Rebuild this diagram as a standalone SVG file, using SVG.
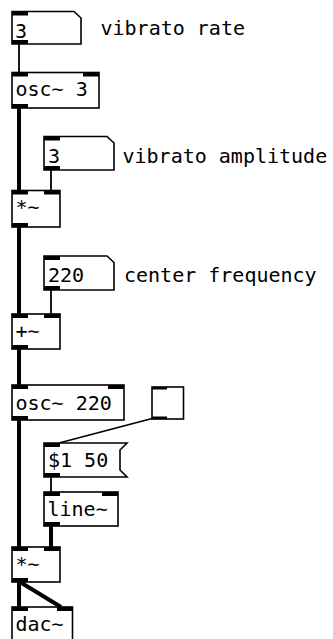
<svg xmlns="http://www.w3.org/2000/svg" width="333" height="639" viewBox="0 0 333 639">
<style>
.box{fill:#fff;stroke:#000;stroke-width:1.6}
.io{fill:#000}
.t{font-family:"DejaVu Sans Mono",monospace;font-size:20px;fill:#000}
.sig{stroke:#000;stroke-width:4;fill:none}
.ctl{stroke:#000;stroke-width:1.8;fill:none}
</style>
<rect width="333" height="639" fill="#fff"/>
<g id="connectors">
<line class="ctl" x1="19" y1="44" x2="19" y2="73"/>
<line class="sig" x1="19" y1="108" x2="19" y2="191"/>
<line class="ctl" x1="51" y1="170" x2="51" y2="191"/>
<line class="sig" x1="19" y1="227" x2="19" y2="314"/>
<line class="ctl" x1="51" y1="290" x2="51" y2="314"/>
<line class="sig" x1="19" y1="349" x2="19" y2="385"/>
<line class="sig" x1="19" y1="420" x2="19" y2="547"/>
<line class="ctl" x1="154" y1="418" x2="59" y2="443"/>
<line class="ctl" x1="51" y1="477" x2="51" y2="492"/>
<line class="sig" x1="51" y1="526" x2="51" y2="547"/>
<line class="sig" x1="19" y1="582" x2="19" y2="607"/>
<line class="sig" x1="20" y1="582" x2="61" y2="607"/>
</g>
<g id="nb1">
<path class="box" d="M12,11.5 H74 L81,18 V44 H12 Z"/>
<rect class="io" x="12" y="11.5" width="16" height="4"/>
<rect class="io" x="12" y="40" width="16" height="4"/>
<text class="t" x="15" y="38">3</text>
</g>
<g id="c1"><text class="t" x="100.5" y="35">vibrato rate</text></g>
<g id="osc1">
<rect class="box" x="12" y="72.5" width="87" height="35.5"/>
<rect class="io" x="12" y="72.5" width="16" height="4"/>
<rect class="io" x="83" y="72.5" width="16" height="4"/>
<rect class="io" x="12" y="104" width="16" height="4"/>
<text class="t" x="15.5" y="96">osc~ 3</text>
</g>
<g id="nb2">
<path class="box" d="M44,136.5 H107 L114,143 V170 H44 Z"/>
<rect class="io" x="44" y="136.5" width="16" height="4"/>
<rect class="io" x="44" y="166" width="16" height="4"/>
<text class="t" x="48" y="163">3</text>
</g>
<g id="c2"><text class="t" x="122.5" y="163">vibrato amplitude</text></g>
<g id="mul1">
<rect class="box" x="12" y="190.5" width="48" height="36.5"/>
<rect class="io" x="12" y="190.5" width="16" height="4"/>
<rect class="io" x="44" y="190.5" width="16" height="4"/>
<rect class="io" x="12" y="223" width="16" height="4"/>
<text class="t" x="15.5" y="214">*~</text>
</g>
<g id="nb3">
<path class="box" d="M44,256 H107 L114,262.5 V290 H44 Z"/>
<rect class="io" x="44" y="256" width="16" height="4"/>
<rect class="io" x="44" y="286" width="16" height="4"/>
<text class="t" x="48" y="282">220</text>
</g>
<g id="c3"><text class="t" x="124" y="282">center frequency</text></g>
<g id="add">
<rect class="box" x="12" y="314" width="48" height="35"/>
<rect class="io" x="12" y="314" width="16" height="4"/>
<rect class="io" x="44" y="314" width="16" height="4"/>
<rect class="io" x="12" y="345" width="16" height="4"/>
<text class="t" x="15.5" y="338">+~</text>
</g>
<g id="osc2">
<rect class="box" x="12" y="385" width="112" height="35"/>
<rect class="io" x="12" y="385" width="16" height="4"/>
<rect class="io" x="108" y="385" width="16" height="4"/>
<rect class="io" x="12" y="416" width="16" height="4"/>
<text class="t" x="15.5" y="410">osc~ 220</text>
</g>
<g id="bang">
<rect class="box" x="152" y="387" width="31.5" height="32" stroke-width="1.4"/>
<rect class="io" x="152" y="387" width="15" height="2.5"/>
<rect class="io" x="152" y="416.5" width="15" height="2.5"/>
</g>
<g id="msg">
<path class="box" d="M44,443 H127 L120,450 V470 L127,477 H44 Z"/>
<rect class="io" x="44" y="443" width="16" height="4"/>
<rect class="io" x="44" y="473" width="16" height="4"/>
<text class="t" x="48" y="467">$1 50</text>
</g>
<g id="line">
<rect class="box" x="44" y="492" width="74" height="34"/>
<rect class="io" x="44" y="492" width="16" height="4"/>
<rect class="io" x="102" y="492" width="16" height="4"/>
<rect class="io" x="44" y="522" width="16" height="4"/>
<text class="t" x="47.5" y="516">line~</text>
</g>
<g id="mul2">
<rect class="box" x="12" y="547" width="48" height="35"/>
<rect class="io" x="12" y="547" width="16" height="4"/>
<rect class="io" x="44" y="547" width="16" height="4"/>
<rect class="io" x="12" y="578" width="16" height="4"/>
<text class="t" x="15.5" y="571">*~</text>
</g>
<g id="dac">
<rect class="box" x="12" y="607" width="60.5" height="36"/>
<rect class="io" x="12" y="607" width="16" height="4"/>
<rect class="io" x="57" y="607" width="16" height="4"/>
<text class="t" x="15.5" y="631">dac~</text>
</g>
</svg>
